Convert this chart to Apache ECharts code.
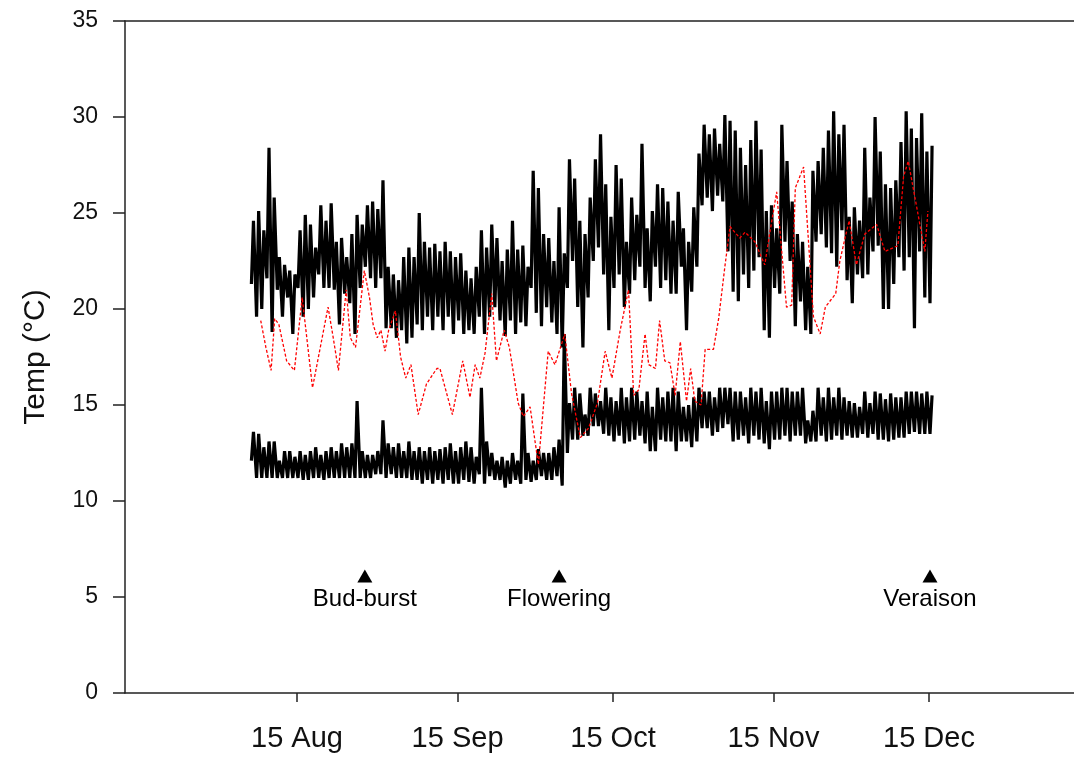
<!DOCTYPE html>
<html>
<head>
<meta charset="utf-8">
<script src="https://cdn.jsdelivr.net/npm/echarts@6/dist/echarts.min.js"></script>
<style>
html,body{margin:0;padding:0;background:#fff;}
#chart{width:1074px;height:757px;}
</style>
</head>
<body>
<div id="chart"></div>
<script>
// ---- DATA (days counted from 15 Aug) ----
const tickLabels = ['15 Aug', '15 Sep', '15 Oct', '15 Nov', '15 Dec'];
const tickDays = [0, 31, 61, 92, 122];
const dataStartDay = -9; // 6 Aug, first daily record

// upper trace: daily maximum / minimum (°C), one value per day from 6 Aug
const upperMax = [24.6,25.1,24.1,28.4,25.8,22.7,22.3,22.0,21.8,24.1,24.9,24.4,23.2,25.4,24.6,25.5,23.5,23.7,22.7,23.9,
  24.9,24.4,25.4,25.6,25.2,26.7,22.2,21.8,21.5,22.7,23.2,22.7,25.0,23.5,23.2,23.4,23.0,23.5,23.0,22.7,
  22.9,22.0,21.6,22.2,24.1,23.2,24.4,23.7,22.5,23.1,24.6,23.1,23.3,22.2,27.2,26.3,23.9,23.7,22.5,25.3,
  22.9,27.8,26.8,24.6,23.9,25.8,27.8,29.1,26.5,24.8,27.5,26.8,23.5,25.8,24.9,28.6,24.2,25.1,26.5,26.3,
  25.6,24.6,26.1,24.2,23.5,25.3,28.1,29.6,29.1,29.4,28.6,30.1,29.8,29.3,28.4,27.5,28.8,29.8,28.3,25.1,
  25.4,24.2,29.6,27.7,25.6,23.9,23.5,22.2,27.2,27.7,28.4,29.3,30.3,29.1,29.6,24.8,25.3,24.6,28.4,25.8,
  30.0,28.2,26.5,26.3,26.7,28.7,30.3,29.4,28.9,30.2,28.2,28.5];
const upperMin = [21.3,19.6,20.0,21.6,18.8,21.0,19.6,20.6,18.7,21.1,19.6,20.0,20.6,21.8,21.1,21.1,21.0,19.2,20.8,20.3,
  18.7,21.1,22.2,21.6,21.1,21.6,19.0,19.0,18.5,18.9,18.2,18.5,19.2,18.9,19.6,18.9,19.6,18.9,19.6,18.7,
  19.4,18.7,18.9,18.7,19.6,18.7,19.6,20.1,19.4,18.6,19.4,18.7,19.3,19.1,21.1,19.8,19.1,20.1,19.3,18.7,
  18.0,21.1,22.5,20.1,18.0,20.6,22.5,23.2,21.8,18.9,21.1,21.8,20.1,20.8,21.5,22.2,21.1,20.4,22.2,21.1,
  21.5,20.8,20.8,22.2,18.9,20.9,22.2,25.4,25.8,25.1,25.9,25.6,23.0,20.9,20.4,21.8,21.1,22.0,22.7,18.9,
  18.5,21.1,20.8,23.5,22.5,19.1,20.4,18.9,18.7,23.5,23.9,23.2,22.9,22.2,24.1,21.5,20.3,21.8,21.6,21.8,
  23.0,23.3,20.0,20.0,21.3,22.7,22.0,22.7,19.0,23.0,20.6,20.3];

// lower trace: daily maximum / minimum (°C)
const lowerMax = [13.6,13.5,12.8,13.1,13.1,12.1,12.6,12.6,12.3,12.6,12.4,12.6,12.8,12.4,12.6,12.8,12.6,13.0,12.8,13.0,
  15.2,12.6,12.4,12.4,12.6,14.2,13.0,12.8,13.0,12.6,13.1,12.6,12.8,12.6,12.8,12.6,12.7,12.8,13.0,12.6,
  12.8,13.1,12.8,12.3,15.9,13.1,12.5,12.1,12.3,12.1,12.5,12.1,15.6,12.5,12.1,12.7,12.5,12.5,12.8,13.2,
  18.7,15.1,15.9,15.6,14.5,15.9,15.6,15.2,15.9,15.4,15.2,15.9,15.4,15.9,15.7,15.2,15.7,14.9,15.9,15.4,
  15.7,15.9,15.7,14.9,15.0,15.4,15.9,15.7,15.7,15.4,15.9,15.9,15.9,15.7,15.7,15.4,15.9,15.7,15.9,15.2,
  15.7,15.7,15.9,15.9,15.7,15.7,15.9,14.2,14.7,15.9,15.4,15.9,15.4,15.9,15.4,15.2,15.1,14.9,15.7,15.1,
  15.7,15.6,15.3,15.6,15.4,15.4,15.7,15.7,15.7,15.6,15.7,15.5];
const lowerMin = [12.1,11.2,11.2,11.2,11.2,11.2,11.2,11.2,11.2,11.2,11.1,11.1,11.2,11.2,11.1,11.2,11.2,11.2,11.2,11.2,
  11.2,11.2,11.2,11.2,11.4,11.4,11.2,11.4,11.2,11.2,11.2,11.1,11.1,10.9,11.1,10.9,11.1,10.9,11.1,10.9,
  10.9,11.1,11.0,10.9,11.4,10.9,11.3,11.1,11.1,10.7,10.9,11.1,10.9,11.1,11.0,11.1,11.3,11.1,11.1,11.3,
  10.8,12.5,13.2,13.2,13.4,13.4,13.9,13.9,13.5,13.4,13.1,13.4,13.0,13.1,13.2,13.4,13.0,12.6,12.6,13.2,
  13.1,13.1,12.6,13.1,13.1,12.8,13.1,13.8,13.8,13.4,13.6,13.8,14.0,13.1,13.2,13.4,13.0,13.4,13.2,13.0,
  12.7,13.2,13.2,13.4,13.1,13.4,13.4,13.0,13.1,13.1,13.4,13.1,13.2,13.4,13.2,13.4,13.3,13.3,13.5,13.3,
  13.5,13.2,13.2,13.1,13.2,13.3,13.3,13.5,13.6,13.5,13.5,13.5];

// red dashed trace: days since 6 Aug and values (°C)
const redDay = [2,3,4,4.7,5.5,7,8.5,10,12,13.5,15,16,17,18.5,19.3,20.3,22,23,23.7,24.5,25.2,26,26.7,28,29,30,31,32.4,34,36,36.6,
  39,41,42.4,43.4,44.3,45.3,46.6,47.5,49,50,51.7,52.7,54,55.6,57.5,58.8,60.7,62,63.7,65.3,67,68.5,69.8,71.4,73,74,75,
  76.2,76.9,78.2,79,80,81,82,83,84.2,85,85.8,87,87.8,89.4,90.4,91.6,92.6,93.5,94.5,95.5,97.4,99.3,100.3,101.6,103.5,
  104.5,105.2,106.8,108.7,110,111,113,113.8,114.8,115.6,117,118.6,120.9,122.5,125,126.1,127,128.3,130.2,130.8];
const redVal = [19.4,18.0,16.8,19.5,19.2,17.3,16.8,20.6,15.9,18.0,20.1,18.5,16.8,21.0,18.5,18.0,22.0,20.6,19.2,18.5,18.9,17.8,18.9,19.9,17.5,16.4,17.1,14.5,16.1,16.9,16.9,
  14.5,17.3,15.4,17.1,16.4,17.7,20.8,17.3,18.9,18.0,15.1,14.4,14.9,11.9,17.8,17.1,18.7,15.6,13.3,13.8,15.1,17.8,16.4,18.9,21.0,15.5,15.8,
  18.7,17.1,16.9,19.4,17.3,17.2,15.5,18.3,15.2,16.9,15.2,15.0,17.9,17.9,19.5,22.2,24.3,24.0,23.7,24.0,23.5,22.3,24.0,26.1,20.1,
  20.2,26.3,27.4,19.6,18.7,20.1,20.8,22.5,23.7,24.6,22.3,23.9,24.4,23.0,23.3,26.9,27.7,25.8,23.0,25.1];

// phenological stages
const stageNames = ['Bud-burst', 'Flowering', 'Veraison'];
const stageDays = [13.1, 50.6, 122.2];
const stageMarkY = 6.1;

// ---- build ----
function zigzag(maxArr, minArr) {
  const out = [];
  for (let i = 0; i < maxArr.length; i++) {
    const d = dataStartDay + i;
    out.push([d + 0.2, minArr[i]]);
    out.push([d + 0.6, maxArr[i]]);
  }
  return out;
}
const redData = redDay.map((d, i) => [dataStartDay + d, redVal[i]]);
const stageData = stageNames.map((n, i) => ({ name: n, value: [stageDays[i], stageMarkY] }));

const FONT = "'Liberation Sans', Arial, sans-serif";
const AXC = '#222';
const chart = echarts.init(document.getElementById('chart'), null, { renderer: 'canvas' });
chart.setOption({
  animation: false,
  backgroundColor: '#fff',
  grid: { left: 125, right: 0, top: 21, bottom: 64 },
  xAxis: [{
    type: 'value', min: -33.2, max: 150,
    axisLine: { show: true, onZero: false, lineStyle: { color: AXC, width: 1.5 } },
    axisTick: { show: true, inside: false, length: 9, customValues: tickDays, lineStyle: { color: AXC, width: 1.5 } },
    axisLabel: { customValues: tickDays, margin: 31, fontSize: 29, color: '#111', fontFamily: FONT,
      formatter: v => { const k = tickDays.indexOf(v); return k >= 0 ? tickLabels[k] : ''; } },
    splitLine: { show: false }
  }, {
    type: 'value', position: 'top', min: -33.2, max: 150,
    axisLine: { show: true, onZero: false, lineStyle: { color: AXC, width: 1.5 } },
    axisTick: { show: false }, axisLabel: { show: false }, splitLine: { show: false }
  }],
  yAxis: {
    type: 'value', min: 0, max: 35, interval: 5, position: 'left',
    name: 'Temp (°C)', nameLocation: 'middle', nameGap: 74,
    nameTextStyle: { fontSize: 30, color: '#111', fontFamily: FONT },
    axisLine: { show: true, onZero: false, lineStyle: { color: AXC, width: 1.5 } },
    axisTick: { show: true, inside: false, length: 12, lineStyle: { color: AXC, width: 1.5 } },
    axisLabel: { margin: 27, fontSize: 23, color: '#111', fontFamily: FONT },
    splitLine: { show: false }
  },
  series: [
    { type: 'line', data: zigzag(upperMax, upperMin), showSymbol: false, symbol: 'none',
      lineStyle: { color: '#000', width: 3.2 }, z: 2 },
    { type: 'line', data: zigzag(lowerMax, lowerMin), showSymbol: false, symbol: 'none',
      lineStyle: { color: '#000', width: 3.2 }, z: 2 },
    { type: 'line', data: redData, showSymbol: false, symbol: 'none',
      lineStyle: { color: '#ff0000', width: 1.3, type: [3, 2] }, z: 3 },
    { type: 'scatter', data: stageData, symbol: 'triangle', symbolSize: [15, 13],
      itemStyle: { color: '#000', opacity: 1 }, z: 4,
      label: { show: true, position: 'bottom', distance: 5, formatter: p => p.name,
        fontSize: 24, color: '#000', fontFamily: FONT } }
  ]
});
</script>
</body>
</html>
